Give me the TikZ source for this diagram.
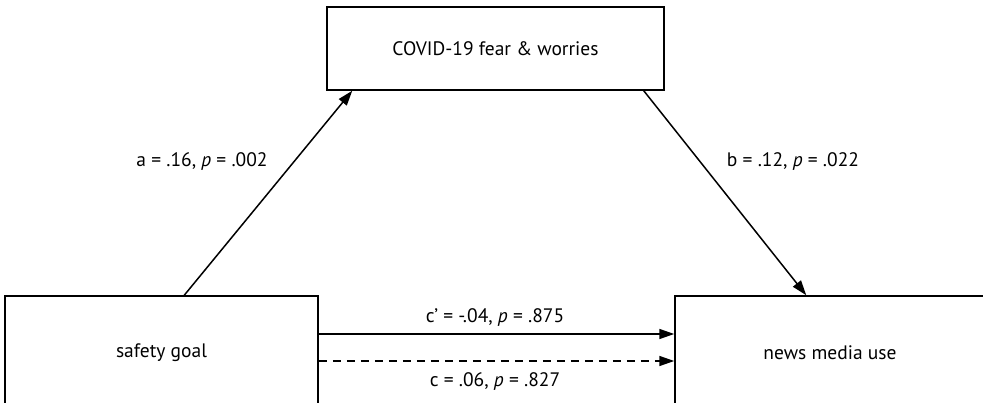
\documentclass[tikz,border=0pt]{standalone}
\usepackage{fontspec}
\setmainfont{PT Sans}
\usetikzlibrary{arrows.meta,calc}
\begin{document}
\begin{tikzpicture}[x=1pt,y=-1pt,
  box/.style={draw,line width=1.5pt,inner sep=0pt,font=\fontsize{19.5}{22}\selectfont},
  conn/.style={line width=1.5pt,-{Triangle[length=15pt,width=10pt]}},
  lbl/.style={font=\fontsize{19.5}{22}\selectfont,inner sep=0pt}]
\useasboundingbox (0,0) rectangle (983,403);
\clip (0,0) rectangle (983,403);
\fill[white] (0,0) rectangle (983,403);
\node[box,minimum width=337pt,minimum height=83pt] (t) at (495.5,48.5) {COVID-19 fear \& worries};
\node[box,minimum width=313pt,minimum height=114pt] (l) at (161.5,353) {safety goal};
\node[box,minimum width=310pt,minimum height=114pt] (r) at (830,353) {news media use};
\coordinate (a0) at ([xshift=180pt]l.north west);
\coordinate (a1) at ([xshift=26pt]t.south west);
\coordinate (b0) at ([xshift=-21pt]t.south east);
\coordinate (b1) at ([xshift=132pt]r.north west);
\coordinate (c0) at ([yshift=19pt]l.east);
\coordinate (d0) at ([yshift=-8pt]l.east);
\draw[conn] (a0) -- (a1);
\draw[conn] (b0) -- (b1);
\draw[conn] (c0) -- (c0 -| r.west);
\draw[conn,dash pattern=on 8pt off 6pt] (d0) -- (d0 -| r.west);
\node[lbl] (la) at (202,162) {a = .16, \textit{p} = .002};
\node[lbl] (lb) at (793,162) {b = .12, \textit{p} = .022};
\node[lbl] (lc1) at (495,318) {c’ = -.04, \textit{p} = .875};
\node[lbl] (lc) at (495,382) {c = .06, \textit{p} = .827};
\end{tikzpicture}
\end{document}
